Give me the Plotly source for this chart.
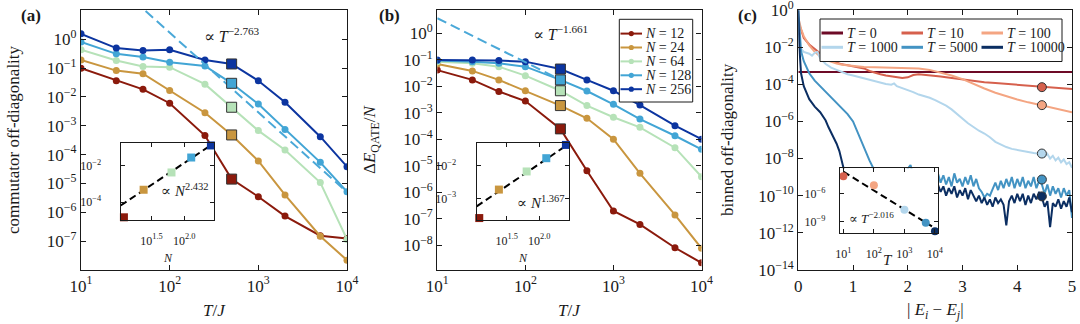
import numpy as np
import plotly.graph_objects as go

# ---------------- data: panels (a) and (b) ----------------
T_J = [10, 25, 50, 100, 250, 500, 1000, 2000, 5000, 10000]
N_VALUES = [12, 24, 64, 128, 256]
N_COLORS = ['#8b1a0c', '#c9963f', '#b6e2b8', '#42a5d5', '#0c35a0']

# log10(commutator off-diagonality), panel (a)
comm_N12 = [-1.01, -1.44, -1.74, -2.22, -3.34, -4.85, -5.46, -6.13, -6.81, -6.91]
comm_N24 = [-0.72, -1.09, -1.20, -1.78, -2.55, -3.32, -4.22, -5.40, -6.83, -7.66]
comm_N64 = [-0.37, -0.74, -0.95, -0.97, -1.56, -2.36, -3.17, -3.84, -4.97, -6.94]
comm_N128 = [-0.10, -0.51, -0.62, -0.80, -0.93, -1.53, -2.25, -3.13, -4.27, -5.29]
comm_N256 = [0.185, -0.31, -0.39, -0.37, -0.72, -0.86, -1.44, -2.19, -3.38, -4.42]
COMM = [comm_N12, comm_N24, comm_N64, comm_N128, comm_N256]
A_HIGHLIGHT = 5          # T/J = 500 -> squares / inset

# log10(Delta E_QATE / N), panel (b)
dE_N12 = [-1.39, -1.76, -2.20, -2.56, -3.61, -5.19, -6.71, -7.22, -8.10, -8.67]
dE_N24 = [-1.16, -1.42, -1.76, -2.17, -2.73, -3.21, -4.00, -5.29, -6.86, -8.12]
dE_N64 = [-1.07, -1.13, -1.26, -1.60, -2.17, -2.73, -3.17, -3.55, -4.32, -5.42]
dE_N128 = [-1.03, -1.07, -1.13, -1.26, -1.76, -2.18, -2.68, -3.24, -3.87, -4.38]
dE_N256 = [-1.01, -1.01, -1.03, -1.07, -1.35, -1.76, -2.17, -2.71, -3.49, -4.00]
DE = [dE_N12, dE_N24, dE_N64, dE_N128, dE_N256]
B_HIGHLIGHT = 4          # T/J = 250

# power-law fits (exponent, log10 prefactor, drawn range)
fitA_T = dict(k=-2.763, c=5.75, lo=30, hi=10000)
fitB_T = dict(k=-1.661, c=2.23, lo=10, hi=250)
fitA_N = dict(k=2.432, c=-6.70, lo=10.7, hi=256)
fitB_N = dict(k=1.367, c=-4.67, lo=10.96, hi=256)

# ---------------- data: panel (c) ----------------
C_LABELS = ['T = 0', 'T = 10', 'T = 100', 'T = 1000', 'T = 5000', 'T = 10000']
C_COLORS = ['#6d0a26', '#d6604d', '#f4a582', '#b3d6ec', '#4393c3', '#0b2e62']

c0_x = [0, 5]
c0_log = [-3.33, -3.33]

c10_x = [0.0, 0.05, 0.1, 0.2, 0.3, 0.4, 0.5, 0.6, 0.7, 0.8, 0.9, 1.0, 1.1, 1.2, 1.3, 1.4,
         1.5, 1.6, 1.7, 1.8, 1.9, 2.0, 2.1, 2.2, 2.3, 2.4, 2.5, 2.6, 2.7, 2.8, 2.9, 3.0,
         3.2, 3.4, 3.6, 3.8, 4.0, 4.2, 4.4, 4.6, 4.8, 5.0]
c10_log = [-0.6, -1.1, -1.5, -1.85, -2.1, -2.35, -2.56, -2.72, -2.84, -2.92, -2.97, -3.02,
           -3.07, -3.14, -3.28, -3.38, -3.45, -3.52, -3.57, -3.61, -3.66, -3.62, -3.50,
           -3.46, -3.48, -3.50, -3.54, -3.58, -3.62, -3.66, -3.70, -3.74, -3.82, -3.88,
           -3.93, -3.98, -4.03, -4.08, -4.14, -4.18, -4.21, -4.25]

c100_x = [0.0, 0.05, 0.1, 0.2, 0.3, 0.4, 0.5, 0.6, 0.7, 0.8, 0.9, 1.0, 1.2, 1.4, 1.6, 1.8,
          2.0, 2.2, 2.4, 2.6, 2.8, 3.0, 3.2, 3.4, 3.6, 3.8, 4.0, 4.2, 4.4, 4.6, 4.8, 5.0]
c100_log = [-0.4, -1.0, -1.4, -1.9, -2.25, -2.5, -2.68, -2.8, -2.88, -2.94, -2.98, -3.02,
            -3.06, -3.08, -3.09, -3.10, -3.11, -3.14, -3.22, -3.35, -3.52, -3.72, -3.98,
            -4.22, -4.45, -4.65, -4.82, -4.97, -5.10, -5.22, -5.35, -5.50]

c1000_x = [0.0, 0.03, 0.1, 0.2, 0.25, 0.3, 0.35, 0.4, 0.5, 0.6, 0.7, 0.8, 0.9, 1.0, 1.1,
           1.2, 1.3, 1.4, 1.5, 1.6, 1.7, 1.75, 1.8, 1.9, 2.0, 2.1, 2.2, 2.3, 2.4, 2.5, 2.6,
           2.7, 2.8, 2.9, 3.0, 3.1, 3.2, 3.3, 3.4, 3.5, 3.6, 3.7, 3.8, 3.9, 4.0, 4.1, 4.2,
           4.3, 4.4, 4.5, 4.55, 4.6, 4.65, 4.7, 4.75, 4.8, 4.85, 4.9, 4.95, 5.0]
c1000_log = [-0.5, -2.0, -2.25, -2.35, -2.45, -2.3, -2.25, -2.6, -2.9, -3.1, -3.22, -3.35,
             -3.45, -3.52, -3.6, -3.67, -3.74, -3.82, -3.88, -3.98, -4.02, -3.95, -4.1,
             -4.2, -4.3, -4.42, -4.55, -4.62, -4.72, -4.85, -5.0, -5.15, -5.35, -5.6,
             -5.9, -6.1, -6.3, -6.5, -6.65, -6.85, -7.1, -7.25, -7.38, -7.48, -7.55,
             -7.6, -7.65, -7.7, -7.74, -7.9, -7.75, -8.0, -7.85, -8.1, -7.95, -8.2,
             -8.05, -8.3, -8.2, -8.5]

c5000_x = [0.0, 0.02, 0.05, 0.1, 0.15, 0.2, 0.3, 0.4, 0.5, 0.6, 0.7, 0.8, 0.9, 1.0, 1.1,
           1.2, 1.3, 1.4, 1.5, 1.6, 1.7, 1.8, 1.9, 2.0, 2.05, 2.1, 2.2, 2.3, 2.4, 2.5,
           2.55, 2.6, 2.65, 2.7, 2.75, 2.8, 2.85, 2.9, 2.95, 3.0, 3.05, 3.1, 3.15, 3.2,
           3.25, 3.3, 3.35, 3.4, 3.45, 3.5, 3.55, 3.6, 3.65, 3.7, 3.75, 3.8, 3.85, 3.9,
           3.95, 4.0, 4.05, 4.1, 4.15, 4.2, 4.25, 4.3, 4.35, 4.4, 4.45, 4.5, 4.55, 4.6,
           4.65, 4.7, 4.75, 4.8, 4.85, 4.9, 4.95, 5.0]
c5000_log = [0.0, -1.2, -2.2, -2.75, -3.1, -3.4, -3.8, -4.1, -4.4, -4.7, -5.0, -5.3, -5.6,
             -6.0, -6.7, -7.5, -8.1, -8.7, -9.2, -9.5, -9.6, -9.3, -8.9, -8.5, -8.35,
             -8.9, -9.3, -9.2, -9.0, -9.1,
             -8.8, -9.3, -8.9, -9.4, -9.0, -9.5, -8.8, -9.3, -9.1, -9.5,
             -9.0, -9.4, -8.9, -9.5, -9.1, -9.6, -9.8, -10.1, -9.9, -10.0,
             -9.6, -9.3, -9.7, -9.2, -9.6, -9.1, -9.5, -9.0, -9.6, -9.1,
             -9.5, -9.0, -9.6, -9.2, -9.5, -9.0, -9.6, -9.2, -9.4, -9.9,
             -9.4, -10.0, -9.5, -9.9, -9.6, -10.1, -9.6, -10.0, -9.7, -11.2]

c10000_x = [0.0, 0.02, 0.05, 0.1, 0.2, 0.3, 0.4, 0.5, 0.55, 0.6, 0.65, 0.7, 0.75, 0.8,
            0.85, 0.9, 1.0, 1.1, 1.2, 1.3, 1.4, 1.5, 1.6, 1.7, 1.8, 1.9, 2.0, 2.1, 2.2,
            2.3, 2.4, 2.5,
            2.55, 2.6, 2.65, 2.7, 2.75, 2.8, 2.85, 2.9, 2.95, 3.0, 3.05, 3.1, 3.15, 3.2,
            3.25, 3.3, 3.35, 3.4, 3.45, 3.5, 3.55, 3.6, 3.65, 3.7, 3.75, 3.8, 3.85, 3.9,
            3.95, 4.0, 4.05, 4.1, 4.15, 4.2, 4.25, 4.3, 4.35, 4.4, 4.45, 4.5, 4.55, 4.6,
            4.65, 4.7, 4.75, 4.8, 4.85, 4.9, 4.95, 5.0]
c10000_log = [0.0, -2.0, -3.4, -4.1, -4.8, -5.2, -5.5, -5.95, -6.3, -6.6, -6.9, -7.2, -7.6,
              -8.2, -8.8, -9.2, -9.5, -9.8, -9.6, -10.0, -9.7, -10.1, -9.8, -10.2, -9.9,
              -10.3, -9.9, -10.2, -9.8, -10.1, -9.7, -9.9,
              -9.4, -9.8, -9.5, -10.0, -9.6, -9.9, -9.5, -10.1, -9.7, -10.0,
              -9.6, -10.2, -9.7, -10.0, -10.3, -10.0, -10.4, -10.1, -10.5, -10.2,
              -10.6, -10.1, -10.4, -10.2, -10.5, -11.6, -10.3, -10.0, -10.4, -9.9,
              -10.3, -9.9, -10.5, -10.0, -10.4, -9.9, -10.2, -9.8, -10.1, -10.6,
              -10.3, -11.7, -10.4, -10.6, -10.2, -10.7, -10.3, -10.6, -10.1, -10.9]

C_X = [c0_x, c10_x, c100_x, c1000_x, c5000_x, c10000_x]
C_LOG = [c0_log, c10_log, c100_log, c1000_log, c5000_log, c10000_log]

# values at |E_i - E_j| ~ 4.45 (circles), also shown in inset vs T
c_mark_x = 4.45
c_T_inset = [10, 100, 1000, 5000, 10000]
c_mark_log = [-4.15, -5.12, -7.73, -9.13, -10.04]
fitC_T = dict(k=-2.016, c=-1.644, lo=10, hi=8000)

# ---------------- geometry helpers ----------------
FONT = 'Liberation Serif, DejaVu Serif, serif'
INK = '#1a1a1a'
W, H = 1080, 324
ML, MR, MT, MB = 81, 8, 10, 54
PW, PH = W - ML - MR, H - MT - MB


def fx(px):
    return (px - ML) / PW


def fy(py):
    return (H - MB - py) / PH


def sup(e):
    s = str(e).replace('-', '\u2212')
    return f'10<sup>{s}</sup>'


def axis(domain, anchor, size=17, **kw):
    d = dict(domain=domain, anchor=anchor, showline=True, linecolor=INK, linewidth=1.2,
             mirror='ticks', ticks='inside', ticklen=5, tickwidth=1, tickcolor=INK,
             showgrid=False, zeroline=False, automargin=False, ticklabeloverflow='allow',
             tickfont=dict(family=FONT, size=size, color=INK))
    d.update(kw)
    return d


def fit_line(f):
    x = np.array([f['lo'], f['hi']], dtype=float)
    return x, 10 ** f['c'] * x ** f['k']


fig = go.Figure()

# ---------------- panels (a) and (b) ----------------
for data, hl, xa, ya, fit in [(COMM, A_HIGHLIGHT, 'x', 'y', fitA_T),
                              (DE, B_HIGHLIGHT, 'x2', 'y2', fitB_T)]:
    for vals, col in zip(data, N_COLORS):
        fig.add_trace(go.Scatter(
            x=T_J, y=10 ** np.array(vals), mode='lines+markers',
            line=dict(color=col, width=2), marker=dict(size=7, color=col),
            xaxis=xa, yaxis=ya, hoverinfo='skip'))
    fx_, fy_ = fit_line(fit)
    fig.add_trace(go.Scatter(
        x=fx_, y=fy_, mode='lines', line=dict(color='#4aa8d8', width=2, dash='10px,5px'),
        xaxis=xa, yaxis=ya, hoverinfo='skip'))
    for vals, col in zip(data, N_COLORS):
        fig.add_trace(go.Scatter(
            x=[T_J[hl]], y=[10 ** vals[hl]], mode='markers',
            marker=dict(symbol='square', size=10, color=col, line=dict(color='#333', width=1)),
            xaxis=xa, yaxis=ya, hoverinfo='skip'))

# insets of (a) and (b): highlighted values vs N
for data, hl, xa, ya, fit in [(COMM, A_HIGHLIGHT, 'x4', 'y4', fitA_N),
                              (DE, B_HIGHLIGHT, 'x5', 'y5', fitB_N)]:
    nx, ny = fit_line(fit)
    fig.add_trace(go.Scatter(
        x=nx, y=ny, mode='lines', line=dict(color='black', width=2, dash='7px,4px'),
        xaxis=xa, yaxis=ya, hoverinfo='skip'))
    fig.add_trace(go.Scatter(
        x=N_VALUES, y=[10 ** v[hl] for v in data], mode='markers',
        marker=dict(symbol='square', size=8, color=N_COLORS),
        cliponaxis=False, xaxis=xa, yaxis=ya, hoverinfo='skip'))

# ---------------- panel (c) ----------------
for xs, ls, col in zip(C_X, C_LOG, C_COLORS):
    fig.add_trace(go.Scatter(
        x=xs, y=10 ** np.array(ls), mode='lines', line=dict(color=col, width=2),
        xaxis='x3', yaxis='y3', hoverinfo='skip'))
fig.add_trace(go.Scatter(
    x=[c_mark_x] * len(c_mark_log), y=10 ** np.array(c_mark_log), mode='markers',
    marker=dict(size=9, color=C_COLORS[1:], line=dict(color='#333', width=1)),
    xaxis='x3', yaxis='y3', hoverinfo='skip'))

tx, ty = fit_line(fitC_T)
fig.add_trace(go.Scatter(
    x=tx, y=ty, mode='lines', line=dict(color='black', width=2, dash='7px,4px'),
    xaxis='x6', yaxis='y6', hoverinfo='skip'))
fig.add_trace(go.Scatter(
    x=c_T_inset, y=10 ** np.array(c_mark_log), mode='markers',
    marker=dict(size=8, color=C_COLORS[1:]), cliponaxis=False,
    xaxis='x6', yaxis='y6', hoverinfo='skip'))

# ---------------- axes ----------------
t_ticks = dict(tickvals=[10, 100, 1000, 10000], ticktext=[sup(e) for e in [1, 2, 3, 4]])
ea = list(range(-7, 1))
eb = list(range(-8, 1))
ec = list(range(-14, 1, 2))

layout_axes = dict(
    xaxis=axis([fx(81), fx(347)], 'y', type='log', range=[1, 4], **t_ticks),
    yaxis=axis([0, 1], 'x', type='log', range=[-8.0, 1.01],
               tickvals=[10.0 ** e for e in ea], ticktext=[sup(e) for e in ea]),
    xaxis2=axis([fx(437.3), fx(701.5)], 'y2', type='log', range=[1, 4], **t_ticks),
    yaxis2=axis([0, 1], 'x2', type='log', range=[-8.94, 0.88],
                tickvals=[10.0 ** e for e in eb], ticktext=[sup(e) for e in eb]),
    xaxis3=axis([fx(798.3), 1.0], 'y3', range=[0, 5], tickvals=[0, 1, 2, 3, 4, 5]),
    yaxis3=axis([0, 1], 'x3', type='log', range=[-14.01, 0.01],
                tickvals=[10.0 ** e for e in ec], ticktext=[sup(e) for e in ec]),
    # insets
    xaxis4=axis([fx(120.7), fx(214.3)], 'y4', size=12, type='log', range=[1.03, 2.46],
                ticklen=4, ticklabelstandoff=9,
                tickvals=[10 ** 1.5, 100], ticktext=[sup('1.5'), sup('2.0')]),
    yaxis4=axis([fy(220), fy(143.3)], 'x4', size=12, type='log', range=[-5.0, -0.74],
                ticklen=4, ticklabelstandoff=16,
                tickvals=[1e-2, 1e-4], ticktext=[sup(-2), sup(-4)]),
    xaxis5=axis([fx(476.7), fx(569.3)], 'y5', size=12, type='log', range=[1.04, 2.46],
                ticklen=4, ticklabelstandoff=9,
                tickvals=[10 ** 1.5, 100], ticktext=[sup('1.5'), sup('2.0')]),
    yaxis5=axis([fy(220), fy(143.3)], 'x5', size=12, type='log', range=[-3.67, -1.30],
                ticklen=4, ticklabelstandoff=17,
                tickvals=[1e-2, 1e-3], ticktext=[sup(-2), sup(-3)]),
    xaxis6=axis([fx(840), fx(938.3)], 'y6', size=12, type='log', range=[0.89, 4.11],
                ticklen=4, ticklabelstandoff=9,
                tickvals=[10, 100, 1000, 10000], ticktext=[sup(e) for e in [1, 2, 3, 4]]),
    yaxis6=axis([fy(233.3), fy(168.3)], 'x6', size=12, type='log', range=[-10.25, -3.3],
                ticklen=4, ticklabelstandoff=11,
                tickvals=[1e-6, 1e-9], ticktext=[sup(-6), sup(-9)]),
)

# ---------------- text ----------------
annotations = []


def text(px, py, s, size=17, xanchor='center', angle=0):
    annotations.append(dict(
        x=fx(px), y=fy(py), xref='paper', yref='paper', text=s, showarrow=False,
        xanchor=xanchor, yanchor='middle', textangle=angle,
        font=dict(family=FONT, size=size, color=INK)))


text(31, 15, '<b>(a)</b>')
text(389, 15, '<b>(b)</b>')
text(747, 15, '<b>(c)</b>')
text(13, 140, 'commutator off-diagonality', angle=-90)
text(371, 140, '\u0394<i>E</i><sub>QATE</sub>/<i>N</i>', angle=-90)
text(727, 140, 'binned off-diagonality', angle=-90)
text(214, 311, '<i>T</i>/<i>J</i>')
text(569.5, 311, '<i>T</i>/<i>J</i>')
text(935, 311, '| <i>E<sub>i</sub></i> \u2212 <i>E<sub>j</sub></i>|')
text(232, 35, '\u221d <i>T</i><sup>\u22122.763</sup>', size=16)
text(560, 33, '\u221d <i>T</i><sup>\u22121.661</sup>', size=16)
text(185, 190, '\u221d <i>N</i><sup>2.432</sup>', size=15)
text(541, 202, '\u221d <i>N</i><sup>1.367</sup>', size=15)
text(847, 218, '\u221d <i>T</i><sup>\u22122.016</sup>', size=13, xanchor='left')
text(167.5, 258, '<i>N</i>', size=12)
text(523, 258, '<i>N</i>', size=12)
text(888, 260, '<i>T</i>', size=15)

# ---------------- legends ----------------
shapes = []


def rect(x0, y0, x1, y1):
    shapes.append(dict(type='rect', xref='paper', yref='paper', layer='above',
                       x0=fx(x0), x1=fx(x1), y0=fy(y1), y1=fy(y0),
                       line=dict(color=INK, width=1), fillcolor='white'))


def key_line(x0, x1, y, col, width):
    shapes.append(dict(type='line', xref='paper', yref='paper', layer='above',
                       x0=fx(x0), x1=fx(x1), y0=fy(y), y1=fy(y),
                       line=dict(color=col, width=width)))


def key_dot(xc, yc, r, col):
    shapes.append(dict(type='circle', xref='paper', yref='paper', layer='above',
                       x0=fx(xc - r), x1=fx(xc + r), y0=fy(yc + r), y1=fy(yc - r),
                       line=dict(color=col, width=0), fillcolor=col))


# legend of (b)
rect(619.3, 19.3, 692.7, 102)
for i, (n, col) in enumerate(zip(N_VALUES, N_COLORS)):
    yy = 33.6 + 13.9 * i
    key_line(620.5, 642, yy, col, 2)
    key_dot(631.3, yy, 2.6, col)
    text(643, yy, f'<i>N</i> = {n}', size=14, xanchor='left')

# legend of (c)
rect(820, 19, 1062, 61.5)
for i, (lab, col) in enumerate(zip(C_LABELS, C_COLORS)):
    row, colno = divmod(i, 3)
    yy = 33 + 14.3 * row
    x0 = 821.5 + 80 * colno
    key_line(x0, x0 + 21.5, yy, col, 3)
    text(x0 + 23, yy, '<i>T</i>' + lab[1:], size=14, xanchor='left')

fig.update_layout(
    width=W, height=H,
    margin=dict(l=ML, r=MR, t=MT, b=MB),
    paper_bgcolor='white', plot_bgcolor='white',
    showlegend=False,
    font=dict(family=FONT, color=INK),
    annotations=annotations,
    shapes=shapes,
    **layout_axes,
)

# the page's default 8px body margin would push the 1080x324 figure out of the window
fig.write_html("out.html",
               config={'displayModeBar': False},
               post_script="document.body.style.margin='0';document.body.style.overflow='hidden';")
